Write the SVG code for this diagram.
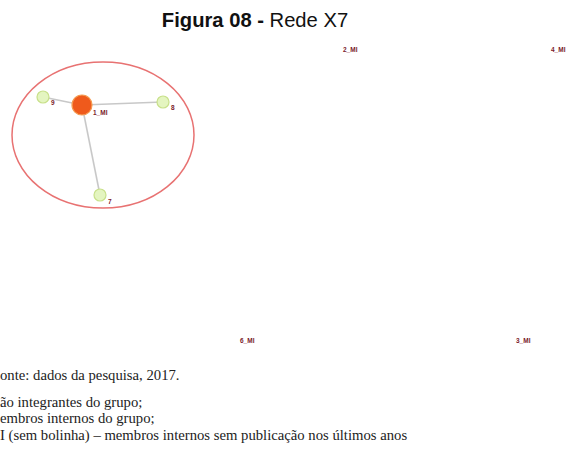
<svg xmlns="http://www.w3.org/2000/svg" width="573" height="459" viewBox="0 0 573 459">
<style>
.title{font-family:"Liberation Sans",Arial,sans-serif;font-size:20.2px;fill:#111}
.edge{stroke:#c8c8c8;stroke-width:1.6;fill:none}
.leaf{fill:#e4f5c0;stroke:#c8e08a;stroke-width:1.2}
.hub{fill:#ef5a1c;stroke:#f59a50;stroke-width:1.2}
.lbl{font-family:"Liberation Sans",Arial,sans-serif;font-size:6.5px;font-weight:bold;fill:#7a1a2a}
.note{font-family:"Liberation Serif","Times New Roman",serif;font-size:14.7px;fill:#222}
</style>
<rect width="573" height="459" fill="#fff"/>
<text class="title" x="255" y="27" text-anchor="middle"><tspan font-weight="bold">Figura 08 - </tspan>Rede X7</text>
<ellipse id="group-boundary" cx="103" cy="135" rx="91" ry="73" fill="none" stroke="#e87272" stroke-width="1.5"/>
<g id="connectors">
<line class="edge" x1="82" y1="105" x2="43" y2="97"/>
<line class="edge" x1="82" y1="105" x2="163" y2="102"/>
<line class="edge" x1="82" y1="105" x2="100" y2="195"/>
</g>
<g id="node-1_MI"><circle class="hub" cx="82" cy="105" r="10"/><text class="lbl" x="93" y="115">1_MI</text></g>
<g id="node-9"><circle class="leaf" cx="43" cy="97" r="6"/><text class="lbl" x="51" y="105">9</text></g>
<g id="node-8"><circle class="leaf" cx="163" cy="102" r="6"/><text class="lbl" x="171" y="110">8</text></g>
<g id="node-7"><circle class="leaf" cx="100" cy="195" r="6"/><text class="lbl" x="108" y="204">7</text></g>
<g id="node-2_MI"><text class="lbl" x="343" y="52">2_MI</text></g>
<g id="node-4_MI"><text class="lbl" x="551" y="52">4_MI</text></g>
<g id="node-6_MI"><text class="lbl" x="240" y="343">6_MI</text></g>
<g id="node-3_MI"><text class="lbl" x="516" y="343">3_MI</text></g>
<text class="note" x="0" y="380">onte: dados da pesquisa, 2017.</text>
<text class="note" x="0" y="407">ão integrantes do grupo;</text>
<text class="note" x="0" y="423">embros internos do grupo;</text>
<text class="note" x="0" y="440">I (sem bolinha) – membros internos sem publicação nos últimos anos</text>
</svg>
